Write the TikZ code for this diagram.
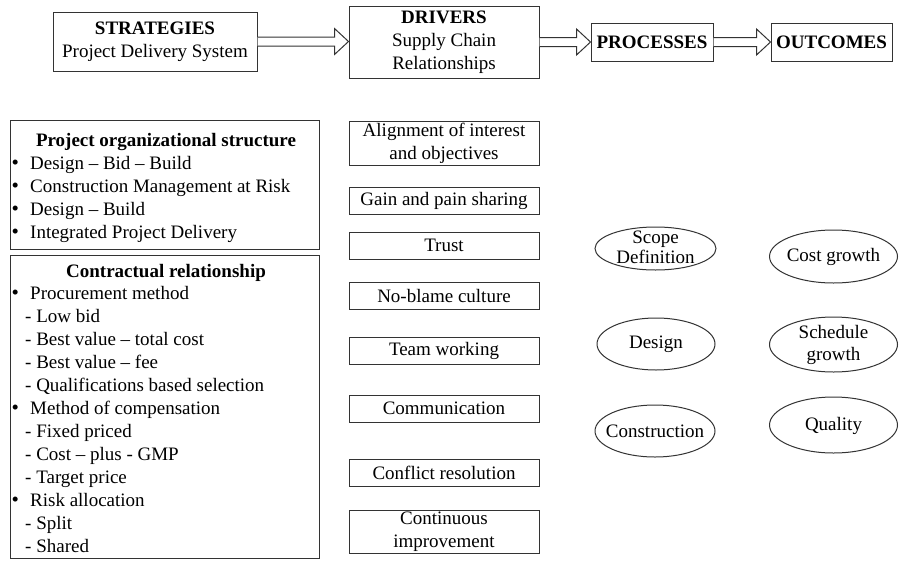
\documentclass[tikz,border=0pt]{standalone}
\usepackage{fontspec}
\setmainfont{Liberation Serif}
\usetikzlibrary{shapes.geometric,calc}
\newcommand\mybullet{\makebox[18pt][l]{\kern-0.5pt{\fontsize{21}{23}\selectfont•}}}
\newcommand\hollowarrow[2]{%
  \draw[arrowline] let \p1=(#1.east), \p2=(#2.west) in
    (\x1,\y1+4.5pt) -- (\x2-14pt,\y1+4.5pt) -- (\x2-14pt,\y1+13pt) -- (\x2,\y1)
    -- (\x2-14pt,\y1-13pt) -- (\x2-14pt,\y1-4.5pt) -- (\x1,\y1-4.5pt);}
\tikzset{
  box/.style={draw=black!80, line width=1pt, inner sep=0pt, align=center},
  oval/.style={ellipse, draw=black!80, line width=1pt, inner sep=0pt},
  item/.style={anchor=base west, inner sep=0pt},
  title/.style={anchor=base, inner sep=0pt, font=\fontsize{19}{23}\selectfont\bfseries},
  lbl/.style={inner sep=0pt, align=center},
  arrowline/.style={draw=black!80, line width=1pt, fill=white, line join=miter}
}
\begin{document}
\begin{tikzpicture}[x=1pt,y=-1pt,font=\fontsize{19}{23}\selectfont]
\useasboundingbox (0,0) rectangle (899,562);

% top row
\node[box, minimum width=204, minimum height=59] (strat) at (155,41.5) {\textbf{STRATEGIES}\\Project Delivery System};
\node[box, minimum width=190, minimum height=72] (drv) at (444,42) {\textbf{DRIVERS}\\Supply Chain\\Relationships};
\node[box, minimum width=122, minimum height=38] (proc) at (652,42) {\textbf{PROCESSES}};
\node[box, minimum width=121, minimum height=38] (outc) at (831.5,42) {\textbf{OUTCOMES}};
\hollowarrow{strat}{drv}
\hollowarrow{drv}{proc}
\hollowarrow{proc}{outc}

% left boxes
\node[box, minimum width=309, minimum height=129] (org) at (164.5,184.5) {};
\node[title] (orgt) at (166,146) {Project organizational structure};
\node[item] (o1) at (12,169) {\mybullet Design – Bid – Build};
\node[item] (o2) at (12,192) {\mybullet Construction Management at Risk};
\node[item] (o3) at (12,215) {\mybullet Design – Build};
\node[item] (o4) at (12,238) {\mybullet Integrated Project Delivery};

\node[box, minimum width=309, minimum height=303] (con) at (164.5,406.5) {};
\node[title] (cont) at (166,277) {Contractual relationship};
\node[item] (c1) at (12,299) {\mybullet Procurement method};
\node[item] (c2) at (25,322) {- Low bid};
\node[item] (c3) at (25,345) {- Best value – total cost};
\node[item] (c4) at (25,368) {- Best value – fee};
\node[item] (c5) at (25,391) {- Qualifications based selection};
\node[item] (c6) at (12,414) {\mybullet Method of compensation};
\node[item] (c7) at (25,437) {- Fixed priced};
\node[item] (c8) at (25,460) {- Cost – plus - GMP};
\node[item] (c9) at (25,483) {- Target price};
\node[item] (c10) at (12,506) {\mybullet Risk allocation};
\node[item] (c11) at (25,529) {- Split};
\node[item] (c12) at (25,552) {- Shared};

% drivers column
\node[box, minimum width=190, minimum height=44] (d1) at (444,143) {Alignment of interest\\and objectives};
\node[box, minimum width=190, minimum height=27] (d2) at (444,200.5) {Gain and pain sharing};
\node[box, minimum width=190, minimum height=27] (d3) at (444,245.5) {Trust};
\node[box, minimum width=190, minimum height=27] (d4) at (444,295.5) {No-blame culture};
\node[box, minimum width=190, minimum height=27] (d5) at (444,350.5) {Team working};
\node[box, minimum width=190, minimum height=27] (d6) at (444,408.5) {Communication};
\node[box, minimum width=190, minimum height=27] (d7) at (444,472.5) {Conflict resolution};
\node[box, minimum width=190, minimum height=43] (d8) at (444,531.5) {Continuous\\improvement};

% processes
\node[oval, minimum width=121, minimum height=43] (e1) at (655.5,248.5) {};
\node[lbl, font=\fontsize{19}{20}\selectfont] (e1t) at (655.5,247) {Scope\\Definition};
\node[oval, minimum width=118, minimum height=52] (e2) at (656,344) {};
\node[lbl] (e2t) at (e2) {Design};
\node[oval, minimum width=120, minimum height=52] (e3) at (655,431) {};
\node[lbl] (e3t) at (e3) {Construction};

% outcomes
\node[oval, minimum width=128, minimum height=53] (f1) at (833.5,256.5) {};
\node[lbl] (f1t) at (f1) {Cost growth};
\node[oval, minimum width=128, minimum height=55] (f2) at (833.5,344.5) {};
\node[lbl, font=\fontsize{19}{22}\selectfont] (f2t) at (833.5,345) {Schedule\\growth};
\node[oval, minimum width=128, minimum height=56] (f3) at (833.5,425) {};
\node[lbl] (f3t) at (833.5,426) {Quality};
\end{tikzpicture}
\end{document}
